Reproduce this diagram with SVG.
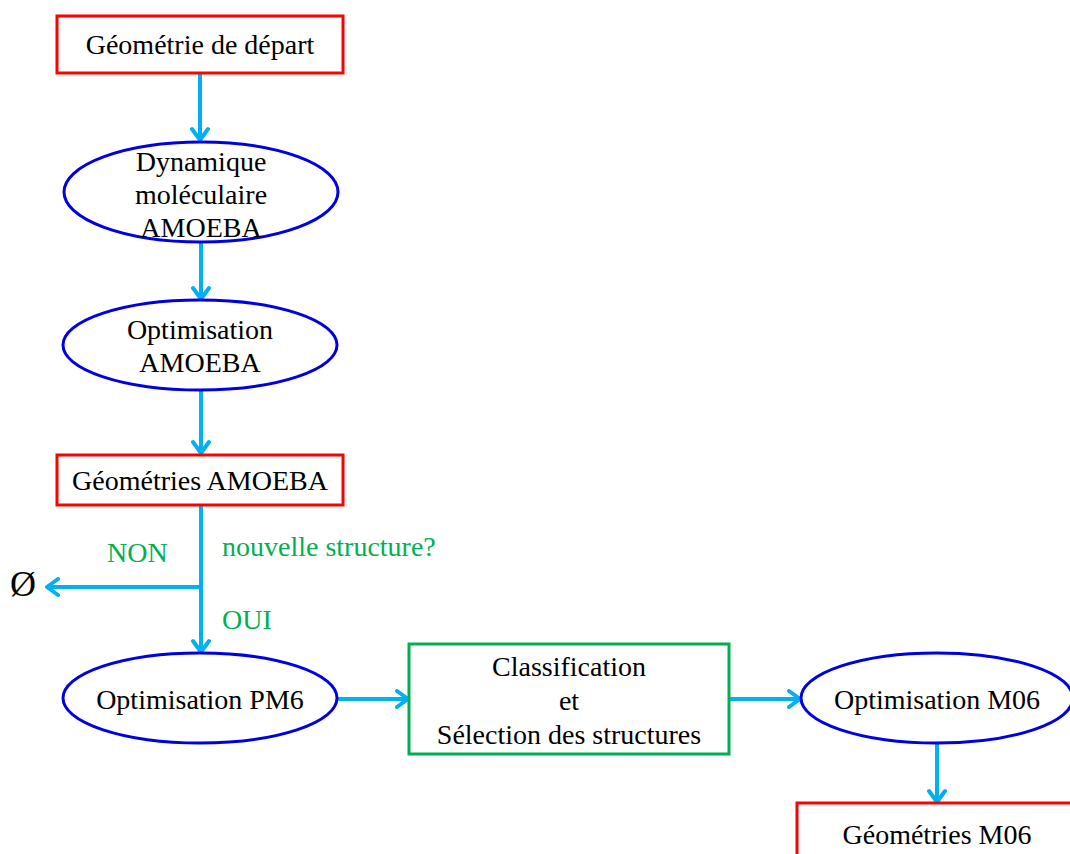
<svg xmlns="http://www.w3.org/2000/svg" width="1070" height="854" viewBox="0 0 1070 854">
<defs>
<marker id="ah" markerWidth="20" markerHeight="20" refX="15" refY="10" orient="auto" markerUnits="userSpaceOnUse">
<path d="M4,2 L15,10 L4,18" fill="none" stroke="#00B0F0" stroke-width="4" stroke-linecap="round" stroke-linejoin="round"/>
</marker>
</defs>
<style>
.t{font-family:"Liberation Serif","Times New Roman",serif;font-size:28px;fill:#000;text-anchor:middle}
.g{font-family:"Liberation Serif","Times New Roman",serif;font-size:28px;fill:#00B050}
.red{fill:#fff;stroke:#FF0000;stroke-width:3}
.blue{fill:#fff;stroke:#0000E0;stroke-width:3}
.green{fill:#fff;stroke:#00B050;stroke-width:3}
.c{fill:none;stroke:#00B0F0;stroke-width:4}
</style>
<rect width="1070" height="854" fill="#fff"/>
<g id="connectors">
<line class="c" x1="200" y1="73" x2="200" y2="140" marker-end="url(#ah)"/>
<line class="c" x1="201" y1="242" x2="201" y2="299" marker-end="url(#ah)"/>
<line class="c" x1="201" y1="390" x2="201" y2="453" marker-end="url(#ah)"/>
<line class="c" x1="201" y1="505" x2="201" y2="652" marker-end="url(#ah)"/>
<line class="c" x1="201" y1="587" x2="47" y2="587" marker-end="url(#ah)"/>
<line class="c" x1="338" y1="699" x2="408" y2="699" marker-end="url(#ah)"/>
<line class="c" x1="729" y1="699" x2="800" y2="699" marker-end="url(#ah)"/>
<line class="c" x1="937" y1="743" x2="937" y2="802" marker-end="url(#ah)"/>
</g>
<g id="n1"><rect class="red" x="57" y="16" width="286" height="57"/><text class="t" x="200" y="54">Géométrie de départ</text></g>
<g id="n2"><ellipse class="blue" cx="201" cy="192" rx="137" ry="50"/><text class="t" x="201" y="171">Dynamique</text><text class="t" x="201" y="204">moléculaire</text><text class="t" x="201" y="237">AMOEBA</text></g>
<g id="n3"><ellipse class="blue" cx="200" cy="345" rx="137" ry="45"/><text class="t" x="200" y="339">Optimisation</text><text class="t" x="200" y="372">AMOEBA</text></g>
<g id="n4"><rect class="red" x="57" y="455" width="286" height="50"/><text class="t" x="200" y="490">Géométries AMOEBA</text></g>
<g id="labels">
<text class="g" x="107" y="562">NON</text>
<text class="g" x="222" y="556">nouvelle structure?</text>
<text class="g" x="222" y="629">OUI</text>
<text x="10" y="596" style="font-family:'Liberation Serif',serif;font-size:36px;fill:#000">Ø</text>
</g>
<g id="n5"><ellipse class="blue" cx="200" cy="698" rx="137" ry="45"/><text class="t" x="200" y="709">Optimisation PM6</text></g>
<g id="n6"><rect class="green" x="409" y="644" width="320" height="110"/><text class="t" x="569" y="676">Classification</text><text class="t" x="569" y="710">et</text><text class="t" x="569" y="744">Sélection des structures</text></g>
<g id="n7"><ellipse class="blue" cx="937" cy="698" rx="136" ry="45"/><text class="t" x="937" y="709">Optimisation M06</text></g>
<g id="n8"><rect class="red" x="797" y="803" width="290" height="60"/><text class="t" x="937" y="844">Géométries M06</text></g>
</svg>
